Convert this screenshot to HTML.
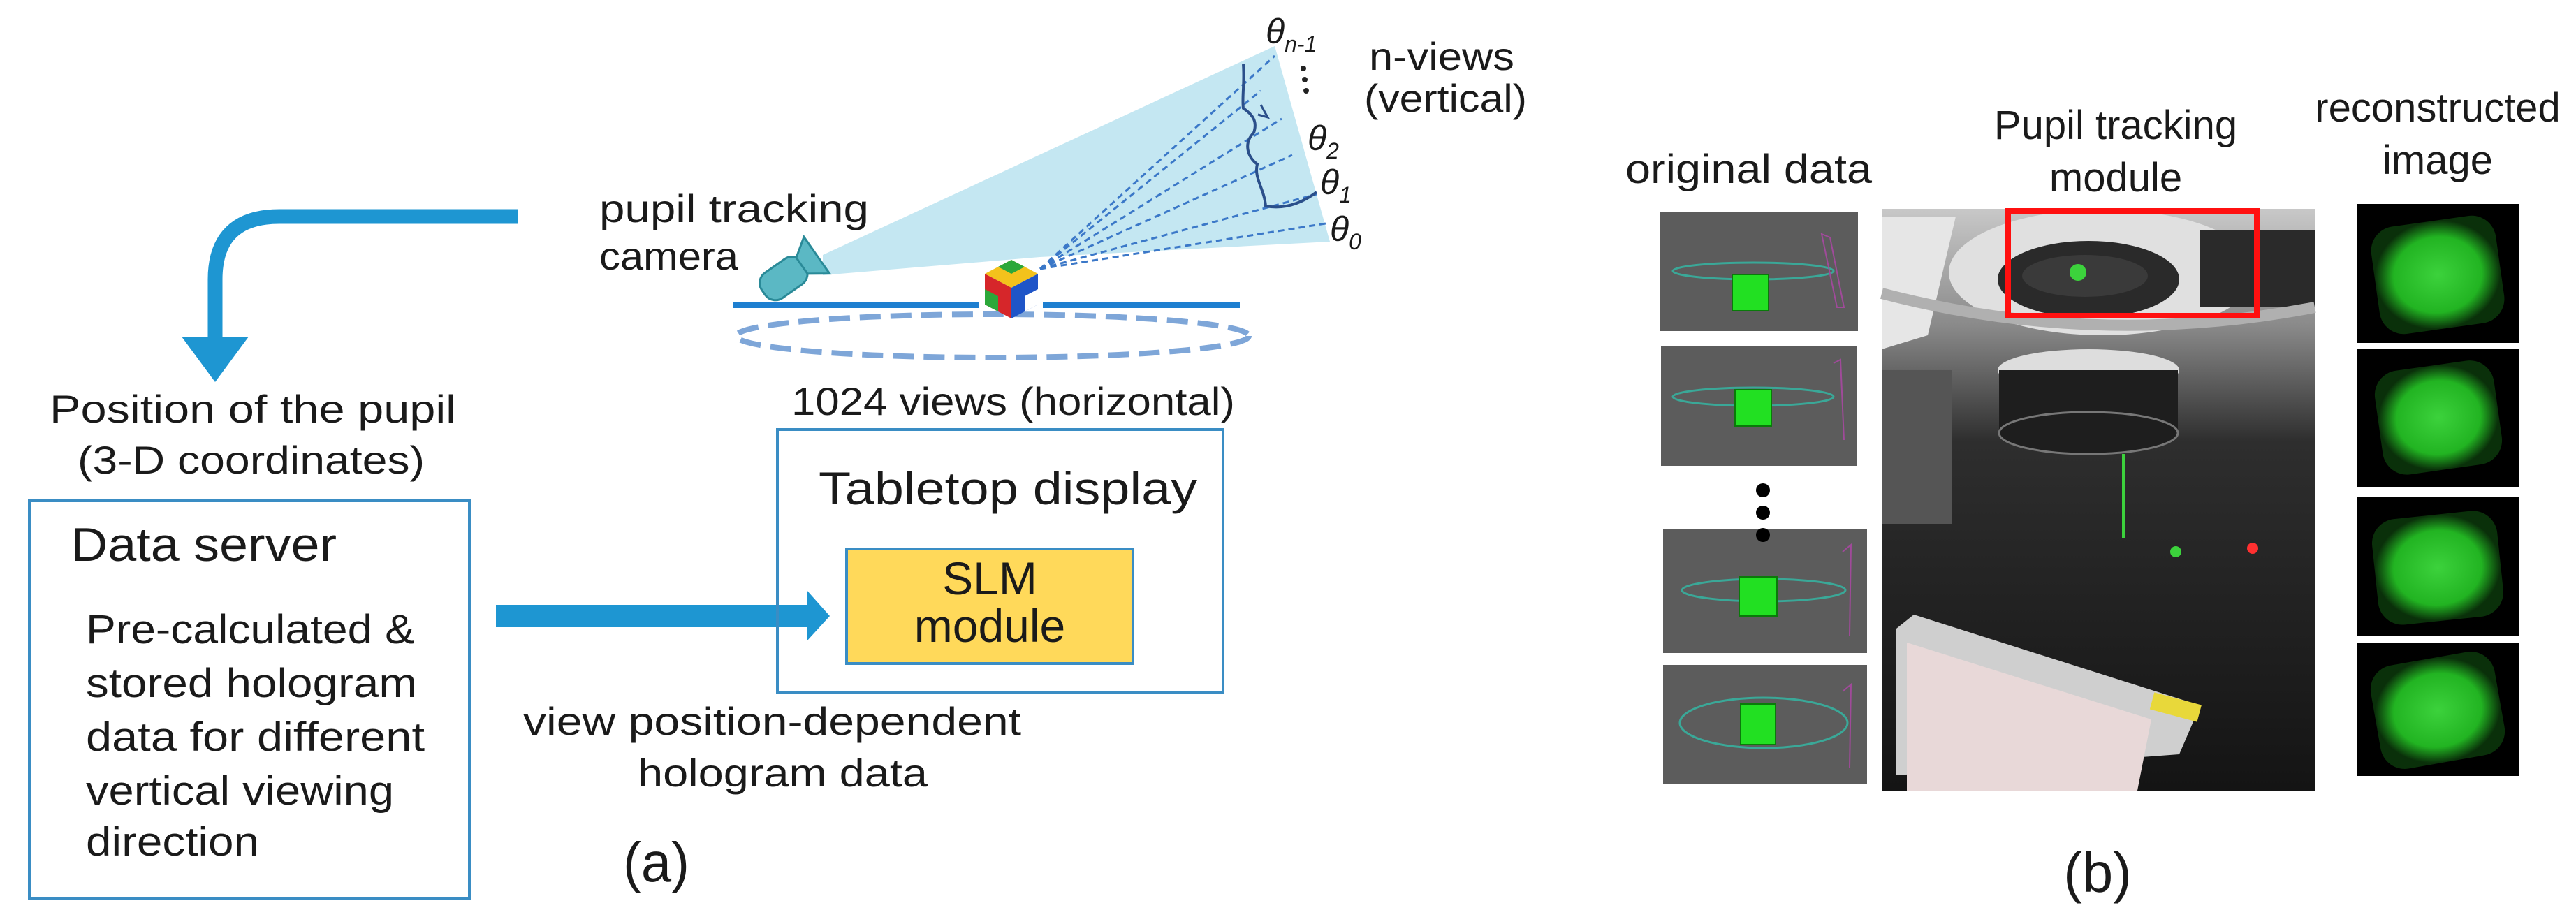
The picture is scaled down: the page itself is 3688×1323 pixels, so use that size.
<!DOCTYPE html>
<html><head><meta charset="utf-8"><style>
html,body{margin:0;padding:0;background:#fff;}
svg{display:block;}
text{font-family:"Liberation Sans",sans-serif;fill:#1a1a1a;}
</style></head><body>
<svg width="3688" height="1323" viewBox="0 0 3688 1323" xmlns="http://www.w3.org/2000/svg">
<defs>
<radialGradient id="gb" cx="50%" cy="50%" r="50%">
<stop offset="0" stop-color="#3cd23c"/><stop offset="0.7" stop-color="#22b422"/><stop offset="1" stop-color="#0a300a"/>
</radialGradient>
<linearGradient id="ph" x1="0" y1="0" x2="0" y2="1">
<stop offset="0" stop-color="#c8c8c8"/><stop offset="0.2" stop-color="#8a8a8a"/><stop offset="0.4" stop-color="#2e2e2e"/><stop offset="1" stop-color="#141414"/>
</linearGradient>
</defs>

<!-- curved arrow -->
<path d="M742,310 L400,310 Q308,310 308,400 L308,484" fill="none" stroke="#1E96D2" stroke-width="21"/>
<polygon points="260,482 356,482 308,547" fill="#1E96D2"/>

<text x="71" y="605" font-size="56" textLength="582" lengthAdjust="spacingAndGlyphs">Position of the pupil</text>
<text x="111" y="678" font-size="56" textLength="497" lengthAdjust="spacingAndGlyphs">(3-D coordinates)</text>

<!-- data server -->
<rect x="42" y="717" width="630" height="570" fill="none" stroke="#3A8DC4" stroke-width="4"/>
<text x="101" y="803" font-size="68" textLength="381" lengthAdjust="spacingAndGlyphs">Data server</text>
<text x="123" y="921" font-size="58" textLength="471" lengthAdjust="spacingAndGlyphs">Pre-calculated &amp;</text>
<text x="123" y="998" font-size="58" textLength="474" lengthAdjust="spacingAndGlyphs">stored hologram</text>
<text x="123" y="1075" font-size="58" textLength="485" lengthAdjust="spacingAndGlyphs">data for different</text>
<text x="123" y="1152" font-size="58" textLength="441" lengthAdjust="spacingAndGlyphs">vertical viewing</text>
<text x="123" y="1225" font-size="58" textLength="248" lengthAdjust="spacingAndGlyphs">direction</text>

<!-- straight arrow -->
<rect x="710" y="866" width="450" height="32" fill="#1E96D2"/>
<polygon points="1155,845 1188,882 1155,918" fill="#1E96D2"/>

<!-- tabletop -->
<rect x="1113" y="615" width="638" height="376" fill="none" stroke="#3A8DC4" stroke-width="4"/>
<text x="1172" y="722" font-size="66" textLength="542" lengthAdjust="spacingAndGlyphs">Tabletop display</text>
<rect x="1212" y="786" width="410" height="164" fill="#FFD95A" stroke="#3A8DC4" stroke-width="4"/>
<text x="1417" y="851" font-size="66" text-anchor="middle">SLM</text>
<text x="1417" y="919" font-size="66" text-anchor="middle">module</text>

<text x="749" y="1052" font-size="56" textLength="713" lengthAdjust="spacingAndGlyphs">view position-dependent</text>
<text x="913" y="1126" font-size="56" textLength="415" lengthAdjust="spacingAndGlyphs">hologram data</text>
<text x="892" y="1262" font-size="80" textLength="95" lengthAdjust="spacingAndGlyphs">(a)</text>

<!-- scene -->
<polygon points="1178,365 1825,66 1904,346 1489,368 1178,394" fill="#C4E7F2"/>
<g stroke="#3b78c8" stroke-width="3" stroke-dasharray="9,6" fill="none">
<line x1="1489" y1="385" x2="1825" y2="80"/>
<line x1="1489" y1="385" x2="1805" y2="130"/>
<line x1="1489" y1="385" x2="1835" y2="170"/>
<line x1="1489" y1="385" x2="1850" y2="222"/>
<line x1="1489" y1="385" x2="1885" y2="278"/>
<line x1="1489" y1="385" x2="1898" y2="320"/>
</g>
<path d="M1780,92 C1782,120 1778,140 1780,155 C1795,165 1800,175 1795,190 C1780,205 1786,225 1800,235 C1795,255 1810,270 1812,295 C1840,300 1865,290 1885,275" fill="none" stroke="#2b4f8a" stroke-width="4"/>
<path d="M1805,150 l10,18 l-14,-4" fill="none" stroke="#2b4f8a" stroke-width="3"/>
<line x1="1050" y1="437" x2="1402" y2="437" stroke="#1E7FD0" stroke-width="8"/>
<line x1="1493" y1="437" x2="1775" y2="437" stroke="#1E7FD0" stroke-width="8"/>
<ellipse cx="1421" cy="481" rx="367" ry="31" fill="none" stroke="#7EA6D8" stroke-width="8" stroke-dasharray="30,14"/>
<!-- camera -->
<g transform="translate(1130,393) rotate(-35)">
<rect x="-45" y="-22" width="70" height="44" rx="18" fill="#5BB8C4" stroke="#2a8a98" stroke-width="3"/>
<polygon points="22,-14 48,-32 48,32 22,14" fill="#5BB8C4" stroke="#2a8a98" stroke-width="3"/>
</g>
<!-- cube -->
<g transform="translate(1448,414)">
<polygon points="-38,-22 0,-42 38,-22 0,-2" fill="#f3c21c"/>
<polygon points="-38,-22 0,-2 0,42 -38,22" fill="#d6262a"/>
<polygon points="0,-2 38,-22 38,22 0,42" fill="#1f55c8"/>
<polygon points="-19,-32 0,-22 19,-32 0,-42" fill="#2ca83a"/>
<polygon points="-38,0 -19,10 -19,32 -38,22" fill="#2ca83a"/>
<polygon points="19,10 38,0 38,22 19,32" fill="#fff"/>
</g>

<g font-style="italic" font-size="50">
<text x="1812" y="62">θ<tspan font-size="32" dy="12">n-1</tspan></text>
<text x="1872" y="215">θ<tspan font-size="32" dy="12">2</tspan></text>
<text x="1890" y="278">θ<tspan font-size="32" dy="12">1</tspan></text>
<text x="1904" y="345">θ<tspan font-size="32" dy="12">0</tspan></text>
</g>
<circle cx="1866" cy="98" r="4" fill="#222"/><circle cx="1868" cy="114" r="4" fill="#222"/><circle cx="1870" cy="130" r="4" fill="#222"/>
<text x="1960" y="100" font-size="56" textLength="208" lengthAdjust="spacingAndGlyphs">n-views</text>
<text x="1953" y="160" font-size="56" textLength="233" lengthAdjust="spacingAndGlyphs">(vertical)</text>
<text x="858" y="318" font-size="56" textLength="386" lengthAdjust="spacingAndGlyphs">pupil tracking</text>
<text x="858" y="386" font-size="56" textLength="199" lengthAdjust="spacingAndGlyphs">camera</text>
<text x="1133" y="594" font-size="56" textLength="635" lengthAdjust="spacingAndGlyphs">1024 views (horizontal)</text>

<!-- panel b labels -->
<text x="2327" y="262" font-size="58" textLength="353" lengthAdjust="spacingAndGlyphs">original data</text>
<text x="3029" y="199" font-size="58" text-anchor="middle">Pupil tracking</text>
<text x="3029" y="274" font-size="58" text-anchor="middle">module</text>
<text x="3490" y="174" font-size="58" text-anchor="middle">reconstructed</text>
<text x="3490" y="249" font-size="58" text-anchor="middle">image</text>
<text x="3003" y="1277" font-size="80" text-anchor="middle">(b)</text>

<!-- original data tiles -->
<g>
<rect x="2376" y="303" width="284" height="171" fill="#5c5c5c"/>
<rect x="2378" y="496" width="280" height="171" fill="#5c5c5c"/>
<rect x="2381" y="757" width="292" height="178" fill="#5c5c5c"/>
<rect x="2381" y="952" width="292" height="170" fill="#5c5c5c"/>
</g>
<g fill="none" stroke="#3aa898" stroke-width="3">
<ellipse cx="2510" cy="388" rx="115" ry="12"/>
<ellipse cx="2510" cy="568" rx="115" ry="13"/>
<ellipse cx="2525" cy="845" rx="117" ry="16"/>
<ellipse cx="2525" cy="1035" rx="120" ry="36"/>
</g>
<g stroke="#a04a9a" stroke-width="2" fill="none">
<path d="M2608,335 L2620,340 L2640,440 L2630,440Z"/>
<path d="M2625,520 L2635,515 L2640,630"/>
<path d="M2638,790 L2650,780 L2648,910"/>
<path d="M2638,990 L2650,980 L2648,1100"/>
</g>
<g fill="#22e022" stroke="#0a7a0a" stroke-width="2">
<rect x="2480" y="393" width="52" height="52"/>
<rect x="2484" y="558" width="52" height="52"/>
<rect x="2490" y="826" width="54" height="56"/>
<rect x="2492" y="1008" width="50" height="58"/>
</g>
<circle cx="2524" cy="702" r="10" fill="#000"/><circle cx="2524" cy="734" r="10" fill="#000"/><circle cx="2524" cy="766" r="10" fill="#000"/>

<!-- photo -->
<rect x="2694" y="299" width="620" height="833" fill="url(#ph)"/>
<polygon points="2694,310 2800,310 2760,480 2694,500" fill="#e6e6e6"/>
<ellipse cx="3010" cy="390" rx="220" ry="90" fill="#e0e0e0"/>
<ellipse cx="2990" cy="400" rx="130" ry="55" fill="#2a2a2a"/>
<ellipse cx="2985" cy="395" rx="90" ry="30" fill="#3a3a3a"/>
<rect x="3150" y="330" width="164" height="110" fill="#2a2a2a"/>
<path d="M2694,420 Q3000,500 3314,440" fill="none" stroke="#b0b0b0" stroke-width="16"/>
<ellipse cx="2990" cy="530" rx="130" ry="30" fill="#ddd"/>
<rect x="2862" y="530" width="256" height="90" fill="#1e1e1e"/>
<ellipse cx="2990" cy="620" rx="128" ry="30" fill="#1e1e1e" stroke="#777" stroke-width="3"/>
<rect x="2694" y="530" width="100" height="220" fill="#555"/>
<circle cx="2975" cy="390" r="12" fill="#3cd23c"/>
<circle cx="3115" cy="790" r="8" fill="#3cd23c"/>
<circle cx="3225" cy="785" r="8" fill="#ff3030"/>
<line x1="3040" y1="650" x2="3040" y2="770" stroke="#3cd23c" stroke-width="4"/>
<polygon points="2715,900 2740,880 3150,1010 3120,1080 2715,1110" fill="#cfcfcf"/>
<polygon points="2730,920 3080,1030 3060,1132 2730,1132" fill="#e8d8d8"/>
<rect x="3080" y="1000" width="70" height="25" fill="#e8d83a" transform="rotate(15 3115 1012)"/>
<rect x="2875" y="302" width="356" height="150" fill="none" stroke="#ff1010" stroke-width="8"/>

<!-- reconstructed -->
<g>
<rect x="3374" y="292" width="233" height="199" fill="#000"/>
<rect x="3374" y="499" width="233" height="198" fill="#000"/>
<rect x="3374" y="712" width="233" height="199" fill="#000"/>
<rect x="3374" y="920" width="233" height="191" fill="#000"/>
</g>
<g fill="url(#gb)">
<rect x="3400" y="316" width="180" height="155" rx="35" transform="rotate(-8 3490 393)"/>
<rect x="3405" y="523" width="172" height="150" rx="35" transform="rotate(-8 3490 598)"/>
<rect x="3400" y="737" width="180" height="152" rx="35" transform="rotate(-6 3490 813)"/>
<rect x="3400" y="942" width="180" height="150" rx="35" transform="rotate(-10 3490 1017)"/>
</g>
</svg>
</body></html>
